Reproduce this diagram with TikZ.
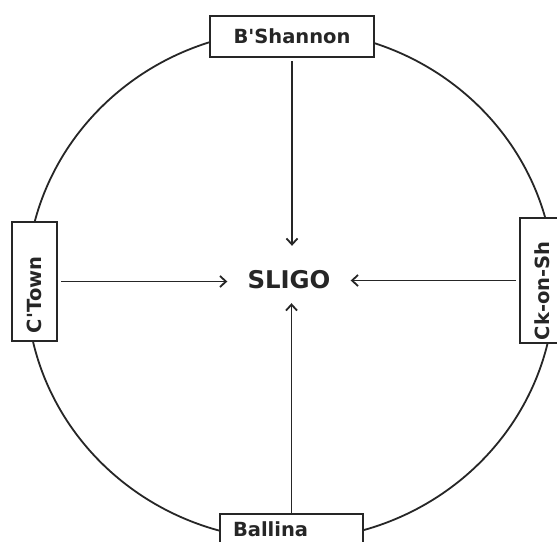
\documentclass[tikz,border=0pt]{standalone}
\usepackage{fontspec}
\newfontfamily\dv{DejaVu Sans}
\usetikzlibrary{arrows.meta,calc}
\definecolor{ink}{HTML}{262626}
\begin{document}
\begin{tikzpicture}[x=1pt,y=-1pt,
  town/.style={draw=ink, line width=2pt, fill=white, text=ink, inner sep=0pt,
    font=\dv\bfseries\fontsize{19.5}{21}\selectfont},
  link/.style={draw=ink, line width=1.8pt, -{Straight Barb[length=6pt,width=11pt]}},
  ring/.style={draw=ink, line width=1.8pt}]
\clip (0,0) rectangle (557,541);
\fill[white] (0,0) rectangle (557,541);
\draw[ring] (290.5,285) ellipse [x radius=264pt, y radius=255pt];
\node[town, minimum width=164pt, minimum height=41pt] (bs) at (292,36.5) {B'Shannon};
\node[town, rotate=90, minimum width=119pt, minimum height=45pt, text width=103pt, align=left] (ct) at (34.5,281.5) {C'Town};
\node[town, rotate=90, minimum width=125pt, minimum height=45pt, text width=119pt, align=left] (ck) at (542.5,280.5) {Ck-on-Sh};
\node[town, minimum width=143pt, minimum height=30pt, text width=117pt, align=left] (ba) at (291.5,529) {Ballina};
\node[font=\dv\bfseries\fontsize{24.4}{26}\selectfont, text=ink, inner xsep=20pt, inner ysep=0pt,
  text height=42pt, text depth=15pt, anchor=base] (sligo) at (289,288) {SLIGO};
\draw[link, shorten <=3pt] (bs.south) -- (bs.south |- sligo.north);
\draw[link] (ba.north) -- (ba.north |- sligo.south);
\draw[link, shorten <=3pt] (ct.south) -- (ct.south -| sligo.west);
\draw[link, shorten <=3pt] (ck.north) -- (ck.north -| sligo.east);
\end{tikzpicture}
\end{document}
